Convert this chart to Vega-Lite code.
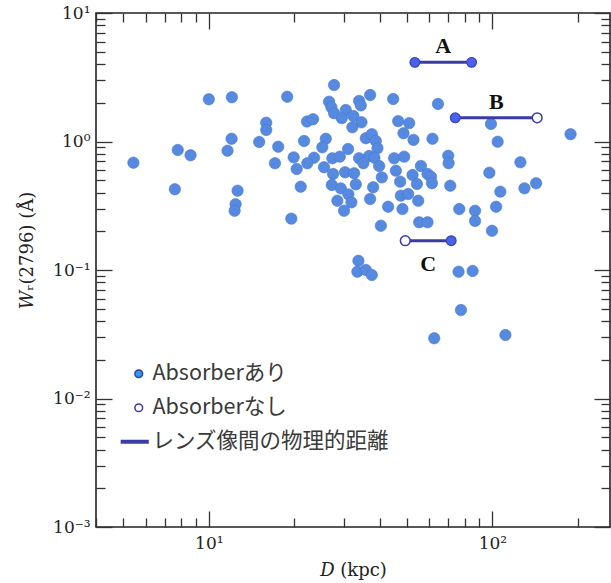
{
  "$schema": "https://vega.github.io/schema/vega-lite/v6.json",
  "width": 514,
  "height": 514,
  "autosize": {"type": "none"},
  "padding": {"left": 96, "top": 13, "right": 1, "bottom": 56},
  "background": "white",
  "datasets": {
    "pts": [
      {"D":5.42,"W":0.684},{"D":7.77,"W":0.859},{"D":8.62,"W":0.781},{"D":7.59,"W":0.425},{"D":10.0,"W":2.13},
      {"D":12.06,"W":2.21},{"D":12.03,"W":1.05},{"D":11.64,"W":0.848},{"D":12.63,"W":0.414},{"D":12.43,"W":0.325},
      {"D":12.33,"W":0.289},{"D":18.9,"W":2.23},{"D":15.94,"W":1.40},{"D":15.94,"W":1.23},{"D":15.05,"W":0.991},
      {"D":17.57,"W":0.911},{"D":17.11,"W":0.677},{"D":19.54,"W":0.251},{"D":19.92,"W":0.753},{"D":20.41,"W":0.611},
      {"D":27.65,"W":2.75},{"D":37.06,"W":2.30},{"D":44.69,"W":2.14},{"D":64.3,"W":1.96},{"D":26.55,"W":2.04},
      {"D":27.05,"W":1.85},{"D":33.88,"W":2.07},{"D":34.36,"W":1.91},{"D":30.41,"W":1.76},{"D":27.65,"W":1.66},
      {"D":29.44,"W":1.52},{"D":32.35,"W":1.58},{"D":34.54,"W":1.41},{"D":32.09,"W":1.29},{"D":22.2,"W":1.43},
      {"D":23.31,"W":1.49},{"D":46.54,"W":1.44},{"D":50.89,"W":1.39},{"D":98.9,"W":1.37},{"D":188.7,"W":1.14},
      {"D":48.6,"W":1.16},{"D":52.7,"W":1.03},{"D":61.5,"W":1.05},{"D":104.4,"W":0.996},{"D":21.67,"W":1.01},
      {"D":25.85,"W":1.05},{"D":35.78,"W":1.06},{"D":37.57,"W":1.14},{"D":38.82,"W":1.01},{"D":25.14,"W":0.901},
      {"D":30.98,"W":0.874},{"D":39.33,"W":0.885},{"D":23.5,"W":0.748},{"D":27.27,"W":0.740},{"D":28.96,"W":0.762},
      {"D":33.88,"W":0.740},{"D":36.76,"W":0.771},{"D":38.38,"W":0.748},{"D":45.05,"W":0.740},{"D":48.87,"W":0.762},
      {"D":69.9,"W":0.775},{"D":70.1,"W":0.677},{"D":125.6,"W":0.689},{"D":22.25,"W":0.677},{"D":25.49,"W":0.630},
      {"D":35.09,"W":0.677},{"D":39.88,"W":0.645},{"D":45.68,"W":0.593},{"D":55.98,"W":0.645},{"D":27.43,"W":0.559},
      {"D":30.23,"W":0.576},{"D":32.54,"W":0.566},{"D":40.76,"W":0.526},{"D":52.3,"W":0.549},{"D":59.08,"W":0.559},
      {"D":60.74,"W":0.532},{"D":97.6,"W":0.572},{"D":21.09,"W":0.445},{"D":27.14,"W":0.459},{"D":29.2,"W":0.432},
      {"D":32.99,"W":0.464},{"D":37.98,"W":0.440},{"D":47.3,"W":0.487},{"D":54.2,"W":0.467},{"D":61.23,"W":0.473},
      {"D":71.05,"W":0.453},{"D":106.7,"W":0.407},{"D":129.8,"W":0.432},{"D":142.7,"W":0.473},{"D":28.4,"W":0.346},
      {"D":31.06,"W":0.388},{"D":31.83,"W":0.336},{"D":37.06,"W":0.357},{"D":47.57,"W":0.379},{"D":50.49,"W":0.390},
      {"D":48.19,"W":0.298},{"D":54.77,"W":0.346},{"D":29.99,"W":0.289},{"D":42.9,"W":0.311},{"D":76.45,"W":0.298},
      {"D":86.9,"W":0.289},{"D":103.1,"W":0.311},{"D":40.44,"W":0.221},{"D":55.2,"W":0.235},{"D":59.08,"W":0.235},
      {"D":86.9,"W":0.241},{"D":99.7,"W":0.202},{"D":33.7,"W":0.118},{"D":33.42,"W":0.097},{"D":35.78,"W":0.100},
      {"D":37.57,"W":0.0914},{"D":76.0,"W":0.097},{"D":85.2,"W":0.0982},{"D":77.5,"W":0.0488},{"D":62.37,"W":0.0294},
      {"D":111.2,"W":0.0312}
    ],
    "seg": [
      {"label":"A","D1":53.3,"D2":84.5,"Dlab":67.1,"W":4.13},
      {"label":"B","D1":74.0,"D2":143.9,"Dlab":103.2,"W":1.53},
      {"label":"C","D1":49.3,"D2":71.6,"Dlab":59.4,"W":0.169}
    ],
    "ends": [
      {"D":53.3,"W":4.13,"kind":"Absorberあり"},
      {"D":84.5,"W":4.13,"kind":"Absorberあり"},
      {"D":74.0,"W":1.53,"kind":"Absorberあり"},
      {"D":143.9,"W":1.53,"kind":"Absorberなし"},
      {"D":49.3,"W":0.169,"kind":"Absorberなし"},
      {"D":71.6,"W":0.169,"kind":"Absorberあり"}
    ]
  },
  "resolve": {"axis": {"x": "independent", "y": "independent"}},
  "layer": [
    {
      "data": {"name": "pts"},
      "mark": {"type": "point", "filled": true, "fill": "#5689e0", "stroke": "#4a78cc", "strokeWidth": 0.6, "size": 130, "opacity": 1},
      "encoding": {
        "x": {"field": "D", "type": "quantitative",
              "scale": {"type": "log", "domain": [4, 260], "nice": false},
              "axis": {"orient": "bottom", "values": [10, 100], "tickSize": -16, "labelPadding": 24,
                       "labelExpr": "datum.value == 10 ? '10¹' : '10²'",
                       "labelFlush": false, "labelOverlap": false, "labelBound": false,
                       "title": "𝐷 (kpc)", "titleX": 257, "titleY": 43, "titleBaseline": "middle", "titleAlign": "center"}},
        "y": {"field": "W", "type": "quantitative",
              "scale": {"type": "log", "domain": [0.001, 10], "nice": false},
              "axis": {"orient": "left", "values": [0.001, 0.01, 0.1, 1, 10], "tickSize": -16, "labelPadding": 22,
                       "labelExpr": "datum.value > 5 ? '10¹' : datum.value > 0.5 ? '10⁰' : datum.value > 0.05 ? '10⁻¹' : datum.value > 0.005 ? '10⁻²' : '10⁻³'",
                       "labelFlush": false, "labelOverlap": false, "labelBound": false,
                       "title": "𝑊ᵣ(2796) (Å)", "titleX": -69, "titleY": 237, "titleAngle": 270, "titleBaseline": "middle", "titleAlign": "center"}}
      }
    },
    {
      "data": {"name": "seg"},
      "mark": {"type": "rule", "stroke": "#3b3ba3", "strokeWidth": 3},
      "encoding": {
        "x": {"field": "D1", "type": "quantitative",
              "scale": {"type": "log", "domain": [4, 260], "nice": false},
              "axis": {"orient": "top", "values": [10, 100], "tickSize": -16, "labels": false, "title": null}},
        "x2": {"field": "D2"},
        "y": {"field": "W", "type": "quantitative",
              "scale": {"type": "log", "domain": [0.001, 10], "nice": false},
              "axis": {"orient": "right", "values": [0.001, 0.01, 0.1, 1, 10], "tickSize": -16, "labels": false, "title": null}}
      }
    },
    {
      "data": {"name": "ends"},
      "mark": {"type": "point", "filled": true, "size": 60, "opacity": 1},
      "encoding": {
        "x": {"field": "D", "type": "quantitative",
              "scale": {"type": "log", "domain": [4, 260], "nice": false},
              "axis": {"orient": "bottom", "values": [4,5,6,7,8,9,20,30,40,50,60,70,80,90,200], "tickSize": -9, "labels": false, "title": null}},
        "y": {"field": "W", "type": "quantitative",
              "scale": {"type": "log", "domain": [0.001, 10], "nice": false},
              "axis": {"orient": "left", "values": [0.002,0.003,0.004,0.005,0.006,0.007,0.008,0.009,0.02,0.03,0.04,0.05,0.06,0.07,0.08,0.09,0.2,0.3,0.4,0.5,0.6,0.7,0.8,0.9,2,3,4,5,6,7,8,9], "tickSize": -9, "labels": false, "title": null}},
        "fill": {"field": "kind", "type": "nominal",
                 "scale": {"domain": ["Absorberあり", "Absorberなし", "レンズ像間の物理的距離"], "range": ["#2a9ee2", "#ffffff", "#3b3ba3"]},
                 "legend": {"orient": "none", "legendX": 32, "legendY": 350, "title": null, "padding": 0,
                            "labelFont": "Noto Sans CJK JP", "labelFontSize": 21.5, "labelColor": "#3a3a3a",
                            "labelOffset": 3, "labelLimit": 0, "rowPadding": 11, "symbolSize": 60}},
        "shape": {"field": "kind", "type": "nominal",
                  "scale": {"domain": ["Absorberあり", "Absorberなし", "レンズ像間の物理的距離"], "range": ["circle", "circle", "M-4.47,-0.3H2.4V0.3H-4.47Z"]},
                  "legend": {"orient": "none", "legendX": 32, "legendY": 350, "title": null}},
        "stroke": {"field": "kind", "type": "nominal",
                   "scale": {"domain": ["Absorberあり", "Absorberなし", "レンズ像間の物理的距離"], "range": ["#3a3aa0", "#3a3aa0", "#3b3ba3"]},
                   "legend": {"orient": "none", "legendX": 32, "legendY": 350, "title": null}}
      }
    },
    {
      "data": {"name": "ends"},
      "transform": [{"filter": "datum.kind === 'Absorberあり'"}],
      "mark": {"type": "point", "filled": true, "fill": "#4a62e8", "stroke": "#3a44c4", "strokeWidth": 1.2, "size": 95, "opacity": 1},
      "encoding": {
        "x": {"field": "D", "type": "quantitative", "scale": {"type": "log", "domain": [4, 260], "nice": false}, "axis": null},
        "y": {"field": "W", "type": "quantitative", "scale": {"type": "log", "domain": [0.001, 10], "nice": false}, "axis": null}
      }
    },
    {
      "data": {"name": "ends"},
      "transform": [{"filter": "datum.kind === 'Absorberなし'"}],
      "mark": {"type": "point", "filled": true, "fill": "#ffffff", "stroke": "#3a3ab0", "strokeWidth": 1.5, "size": 95, "opacity": 1},
      "encoding": {
        "x": {"field": "D", "type": "quantitative", "scale": {"type": "log", "domain": [4, 260], "nice": false}, "axis": null},
        "y": {"field": "W", "type": "quantitative", "scale": {"type": "log", "domain": [0.001, 10], "nice": false}, "axis": null}
      }
    },
    {
      "data": {"name": "seg"},
      "transform": [{"filter": "datum.label !== 'C'"}],
      "mark": {"type": "text", "font": "Liberation Serif", "fontWeight": "bold", "fontSize": 22, "color": "#111", "dy": -16, "baseline": "middle"},
      "encoding": {
        "x": {"field": "Dlab", "type": "quantitative",
              "scale": {"type": "log", "domain": [4, 260], "nice": false},
              "axis": {"orient": "top", "values": [4,5,6,7,8,9,20,30,40,50,60,70,80,90,200], "tickSize": -9, "labels": false, "title": null}},
        "y": {"field": "W", "type": "quantitative",
              "scale": {"type": "log", "domain": [0.001, 10], "nice": false},
              "axis": {"orient": "right", "values": [0.002,0.003,0.004,0.005,0.006,0.007,0.008,0.009,0.02,0.03,0.04,0.05,0.06,0.07,0.08,0.09,0.2,0.3,0.4,0.5,0.6,0.7,0.8,0.9,2,3,4,5,6,7,8,9], "tickSize": -9, "labels": false, "title": null}},
        "text": {"field": "label"}
      }
    },
    {
      "data": {"name": "seg"},
      "transform": [{"filter": "datum.label === 'C'"}],
      "mark": {"type": "text", "font": "Liberation Serif", "fontWeight": "bold", "fontSize": 22, "color": "#111", "dy": 23, "baseline": "middle"},
      "encoding": {
        "x": {"field": "Dlab", "type": "quantitative", "scale": {"type": "log", "domain": [4, 260], "nice": false}, "axis": null},
        "y": {"field": "W", "type": "quantitative", "scale": {"type": "log", "domain": [0.001, 10], "nice": false}, "axis": null},
        "text": {"field": "label"}
      }
    }
  ],
  "config": {
    "view": {"stroke": "#222", "strokeWidth": 1.6},
    "axis": {"domain": false, "grid": false, "tickColor": "#333", "tickWidth": 1.3,
             "labelFont": "DejaVu Serif", "labelFontSize": 17, "labelColor": "#222",
             "titleFont": "DejaVu Serif", "titleFontSize": 18, "titleFontWeight": "normal", "titleColor": "#222"}
  }
}
